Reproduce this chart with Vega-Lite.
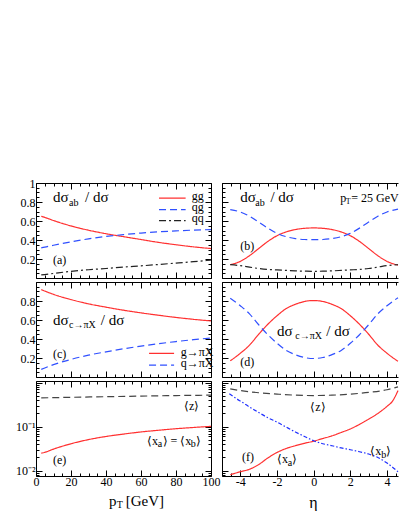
{
"$schema": "https://vega.github.io/schema/vega-lite/v6.json",
"padding": {"left": 15, "top": 177, "right": 0, "bottom": 0},
"background": "white",
"config": {"view": {"stroke": null}, "font": "Liberation Serif",
  "axis": {"domainColor": "black", "tickColor": "black", "labelColor": "black", "labelFont": "Liberation Serif", "labelFontSize": 12, "labelPadding": 4, "grid": false, "labelOverlap": false, "labelFlush": false, "domainWidth": 1, "tickWidth": 1},
  "axisLeft": {"labelPadding": 7},
  "text": {"font": "Liberation Serif", "color": "black"}},
"columns": 2,
"bounds": "flush",
"spacing": {"row": 4, "column": 11},
"concat": [
{
 "width": 175, "height": 95,
 "resolve": {"axis": {"x": "independent", "y": "independent"}},
 "layer": [
  {"data": {"values": [
    {"s":"gg","x":3,"y":0.65},{"s":"gg","x":5,"y":0.638},{"s":"gg","x":10,"y":0.605},{"s":"gg","x":15,"y":0.575},{"s":"gg","x":20,"y":0.548},{"s":"gg","x":30,"y":0.503},{"s":"gg","x":40,"y":0.466},{"s":"gg","x":50,"y":0.435},{"s":"gg","x":60,"y":0.405},{"s":"gg","x":70,"y":0.375},{"s":"gg","x":80,"y":0.35},{"s":"gg","x":90,"y":0.328},{"s":"gg","x":100,"y":0.31},
    {"s":"qg","x":3,"y":0.318},{"s":"qg","x":5,"y":0.325},{"s":"qg","x":10,"y":0.345},{"s":"qg","x":20,"y":0.38},{"s":"qg","x":30,"y":0.412},{"s":"qg","x":40,"y":0.437},{"s":"qg","x":50,"y":0.457},{"s":"qg","x":60,"y":0.473},{"s":"qg","x":70,"y":0.486},{"s":"qg","x":80,"y":0.496},{"s":"qg","x":90,"y":0.504},{"s":"qg","x":100,"y":0.51},
    {"s":"qq","x":3,"y":0.032},{"s":"qq","x":10,"y":0.048},{"s":"qq","x":20,"y":0.07},{"s":"qq","x":30,"y":0.087},{"s":"qq","x":40,"y":0.1},{"s":"qq","x":50,"y":0.115},{"s":"qq","x":60,"y":0.128},{"s":"qq","x":70,"y":0.142},{"s":"qq","x":80,"y":0.157},{"s":"qq","x":90,"y":0.172},{"s":"qq","x":100,"y":0.188}
   ]},
   "mark": {"type": "line", "strokeWidth": 1.2, "interpolate": "monotone"},
   "encoding": {
    "x": {"field": "x", "type": "quantitative", "scale": {"domain": [0, 100], "nice": false, "zero": false},
      "axis": {"orient": "bottom", "title": null, "labels": false, "values": [0,5,10,15,20,25,30,35,40,45,50,55,60,65,70,75,80,85,90,95,100], "tickSize": {"condition": {"test": "datum.value % 20 == 0", "value": -6}, "value": -3}}},
    "y": {"field": "y", "type": "quantitative", "scale": {"domain": [0, 1], "nice": false, "zero": false},
      "axis": {"orient": "left", "title": null, "values": [0,0.05,0.1,0.15,0.2,0.25,0.3,0.35,0.4,0.45,0.5,0.55,0.6,0.65,0.7,0.75,0.8,0.85,0.9,0.95,1], "labelExpr": "(abs(datum.value*5 - round(datum.value*5)) < 0.001 && datum.value > 0.01) ? toString(datum.value) : ''", "tickSize": {"condition": {"test": "abs(datum.value*5 - round(datum.value*5)) < 0.001", "value": -6}, "value": -3}}},
    "color": {"field": "s", "type": "nominal", "legend": null, "scale": {"domain": ["gg","qg","qq","g","q","xa","xb","z"], "range": ["#ff3030","#3050ff","#222222","#ff3030","#3050ff","#ff3030","#2030ff","#444444"]}},
    "strokeDash": {"field": "s", "type": "nominal", "legend": null, "scale": {"domain": ["gg","qg","qq","g","q","xa","xb","z"], "range": [[1,0],[7,4],[7,3,2,3],[1,0],[7,4],[1,0],[4,2,1.5,2],[7,4]]}}
   }},
  {"data": {"values": [{"s":"gg","x":70.3,"x2":85.5,"y":0.84},{"s":"qg","x":70.3,"x2":85.5,"y":0.72},{"s":"qq","x":70.3,"x2":85.5,"y":0.605}]},
   "mark": {"type": "rule", "strokeWidth": 1.2},
   "encoding": {
    "x": {"field": "x", "type": "quantitative", "scale": {"domain": [0, 100], "nice": false, "zero": false}, "axis": null},
    "x2": {"field": "x2"},
    "y": {"field": "y", "type": "quantitative", "scale": {"domain": [0, 1], "nice": false, "zero": false}, "axis": null},
    "color": {"field": "s", "type": "nominal", "legend": null, "scale": {"domain": ["gg","qg","qq","g","q","xa","xb","z"], "range": ["#ff3030","#3050ff","#222222","#ff3030","#3050ff","#ff3030","#2030ff","#444444"]}},
    "strokeDash": {"field": "s", "type": "nominal", "legend": null, "scale": {"domain": ["gg","qg","qq","g","q","xa","xb","z"], "range": [[1,0],[7,4],[7,3,2,3],[1,0],[7,4],[1,0],[4,2,1.5,2],[7,4]]}}
   }},
  {"data": {"values": [{"x":9.7,"y":0.15,"t":"(a)"},{"x":89,"y":0.824,"t":"gg"},{"x":89,"y":0.705,"t":"qg"},{"x":89,"y":0.59,"t":"qq"}]},
   "mark": {"type": "text", "fontSize": 12, "align": "left", "baseline": "alphabetic"},
   "encoding": {
    "x": {"field": "x", "type": "quantitative", "scale": {"domain": [0, 100], "nice": false, "zero": false},
      "axis": {"orient": "top", "title": null, "labels": false, "values": [0,5,10,15,20,25,30,35,40,45,50,55,60,65,70,75,80,85,90,95,100], "tickSize": {"condition": {"test": "datum.value % 20 == 0", "value": -6}, "value": -3}}},
    "y": {"field": "y", "type": "quantitative", "scale": {"domain": [0, 1], "nice": false, "zero": false},
      "axis": {"orient": "right", "title": null, "labels": false, "values": [0,0.05,0.1,0.15,0.2,0.25,0.3,0.35,0.4,0.45,0.5,0.55,0.6,0.65,0.7,0.75,0.8,0.85,0.9,0.95,1], "tickSize": {"condition": {"test": "abs(datum.value*5 - round(datum.value*5)) < 0.001", "value": -6}, "value": -3}}},
    "text": {"field": "t"}
   }},
  {"data": {"values": [{"x":9.7,"y":0.8,"t":"dσ"},{"x":28,"y":0.8,"t":"/ dσ"}]},
   "mark": {"type": "text", "fontSize": 15, "align": "left", "baseline": "alphabetic"},
   "encoding": {
    "x": {"field": "x", "type": "quantitative", "scale": {"domain": [0, 100], "nice": false, "zero": false}, "axis": null},
    "y": {"field": "y", "type": "quantitative", "scale": {"domain": [0, 1], "nice": false, "zero": false}, "axis": null},
    "text": {"field": "t"}
   }},
  {"data": {"values": [{"x":18.9,"y":0.758,"t":"ab"}]},
   "mark": {"type": "text", "fontSize": 10, "align": "left", "baseline": "alphabetic"},
   "encoding": {
    "x": {"field": "x", "type": "quantitative", "scale": {"domain": [0, 100], "nice": false, "zero": false}, "axis": null},
    "y": {"field": "y", "type": "quantitative", "scale": {"domain": [0, 1], "nice": false, "zero": false}, "axis": null},
    "text": {"field": "t"}
   }}
 ]
},
{
 "width": 176, "height": 95,
 "resolve": {"axis": {"x": "independent", "y": "independent"}},
 "layer": [
  {"data": {"values": [
    {"s":"gg","x":-4.55,"y":0.14},{"s":"gg","x":-4,"y":0.175},{"s":"gg","x":-3.5,"y":0.235},{"s":"gg","x":-3,"y":0.31},{"s":"gg","x":-2.5,"y":0.385},{"s":"gg","x":-2,"y":0.445},{"s":"gg","x":-1.5,"y":0.485},{"s":"gg","x":-1,"y":0.51},{"s":"gg","x":-0.5,"y":0.523},{"s":"gg","x":0,"y":0.527},{"s":"gg","x":0.5,"y":0.523},{"s":"gg","x":1,"y":0.51},{"s":"gg","x":1.5,"y":0.485},{"s":"gg","x":2,"y":0.445},{"s":"gg","x":2.5,"y":0.385},{"s":"gg","x":3,"y":0.31},{"s":"gg","x":3.5,"y":0.235},{"s":"gg","x":4,"y":0.175},{"s":"gg","x":4.6,"y":0.135},
    {"s":"qg","x":-4.55,"y":0.72},{"s":"qg","x":-4,"y":0.695},{"s":"qg","x":-3.5,"y":0.65},{"s":"qg","x":-3,"y":0.59},{"s":"qg","x":-2.5,"y":0.525},{"s":"qg","x":-2,"y":0.47},{"s":"qg","x":-1.5,"y":0.435},{"s":"qg","x":-1,"y":0.415},{"s":"qg","x":-0.5,"y":0.405},{"s":"qg","x":0,"y":0.403},{"s":"qg","x":0.5,"y":0.405},{"s":"qg","x":1,"y":0.415},{"s":"qg","x":1.5,"y":0.435},{"s":"qg","x":2,"y":0.47},{"s":"qg","x":2.5,"y":0.525},{"s":"qg","x":3,"y":0.59},{"s":"qg","x":3.5,"y":0.65},{"s":"qg","x":4,"y":0.695},{"s":"qg","x":4.6,"y":0.725},
    {"s":"qq","x":-4.55,"y":0.14},{"s":"qq","x":-4,"y":0.13},{"s":"qq","x":-3.5,"y":0.115},{"s":"qq","x":-3,"y":0.1},{"s":"qq","x":-2.5,"y":0.09},{"s":"qq","x":-2,"y":0.085},{"s":"qq","x":-1.5,"y":0.08},{"s":"qq","x":-1,"y":0.075},{"s":"qq","x":-0.5,"y":0.072},{"s":"qq","x":0,"y":0.07},{"s":"qq","x":0.5,"y":0.072},{"s":"qq","x":1,"y":0.075},{"s":"qq","x":1.5,"y":0.08},{"s":"qq","x":2,"y":0.085},{"s":"qq","x":2.5,"y":0.09},{"s":"qq","x":3,"y":0.1},{"s":"qq","x":3.5,"y":0.115},{"s":"qq","x":4,"y":0.13},{"s":"qq","x":4.6,"y":0.14}
   ]},
   "mark": {"type": "line", "strokeWidth": 1.2, "interpolate": "monotone"},
   "encoding": {
    "x": {"field": "x", "type": "quantitative", "scale": {"domain": [-5, 4.6], "nice": false, "zero": false},
      "axis": {"orient": "bottom", "title": null, "labels": false, "values": [-5,-4.5,-4,-3.5,-3,-2.5,-2,-1.5,-1,-0.5,0,0.5,1,1.5,2,2.5,3,3.5,4,4.5], "tickSize": {"condition": {"test": "datum.value % 2 == 0", "value": -6}, "value": -3}}},
    "y": {"field": "y", "type": "quantitative", "scale": {"domain": [0, 1], "nice": false, "zero": false},
      "axis": {"orient": "left", "title": null, "labels": false, "values": [0,0.05,0.1,0.15,0.2,0.25,0.3,0.35,0.4,0.45,0.5,0.55,0.6,0.65,0.7,0.75,0.8,0.85,0.9,0.95,1], "tickSize": {"condition": {"test": "abs(datum.value*5 - round(datum.value*5)) < 0.001", "value": -6}, "value": -3}}},
    "color": {"field": "s", "type": "nominal", "legend": null, "scale": {"domain": ["gg","qg","qq","g","q","xa","xb","z"], "range": ["#ff3030","#3050ff","#222222","#ff3030","#3050ff","#ff3030","#2030ff","#444444"]}},
    "strokeDash": {"field": "s", "type": "nominal", "legend": null, "scale": {"domain": ["gg","qg","qq","g","q","xa","xb","z"], "range": [[1,0],[7,4],[7,3,2,3],[1,0],[7,4],[1,0],[4,2,1.5,2],[7,4]]}}
   }},
  {"data": {"values": [{"x":-4.0,"y":0.29,"t":"(b)"},{"x":1.45,"y":0.8,"t":"p"},{"x":2.05,"y":0.8,"t":"= 25 GeV"}]},
   "mark": {"type": "text", "fontSize": 12, "align": "left", "baseline": "alphabetic"},
   "encoding": {
    "x": {"field": "x", "type": "quantitative", "scale": {"domain": [-5, 4.6], "nice": false, "zero": false},
      "axis": {"orient": "top", "title": null, "labels": false, "values": [-5,-4.5,-4,-3.5,-3,-2.5,-2,-1.5,-1,-0.5,0,0.5,1,1.5,2,2.5,3,3.5,4,4.5], "tickSize": {"condition": {"test": "datum.value % 2 == 0", "value": -6}, "value": -3}}},
    "y": {"field": "y", "type": "quantitative", "scale": {"domain": [0, 1], "nice": false, "zero": false}, "axis": null},
    "text": {"field": "t"}
   }},
  {"data": {"values": [{"x":-4.0,"y":0.8,"t":"dσ"},{"x":-2.36,"y":0.8,"t":"/ dσ"}]},
   "mark": {"type": "text", "fontSize": 15, "align": "left", "baseline": "alphabetic"},
   "encoding": {
    "x": {"field": "x", "type": "quantitative", "scale": {"domain": [-5, 4.6], "nice": false, "zero": false}, "axis": null},
    "y": {"field": "y", "type": "quantitative", "scale": {"domain": [0, 1], "nice": false, "zero": false}, "axis": null},
    "text": {"field": "t"}
   }},
  {"data": {"values": [{"x":-3.18,"y":0.758,"t":"ab"}]},
   "mark": {"type": "text", "fontSize": 10, "align": "left", "baseline": "alphabetic"},
   "encoding": {
    "x": {"field": "x", "type": "quantitative", "scale": {"domain": [-5, 4.6], "nice": false, "zero": false}, "axis": null},
    "y": {"field": "y", "type": "quantitative", "scale": {"domain": [0, 1], "nice": false, "zero": false}, "axis": null},
    "text": {"field": "t"}
   }},
  {"data": {"values": [{"x":1.75,"y":0.775,"t":"T"}]},
   "mark": {"type": "text", "fontSize": 8, "align": "left", "baseline": "alphabetic"},
   "encoding": {
    "x": {"field": "x", "type": "quantitative", "scale": {"domain": [-5, 4.6], "nice": false, "zero": false}, "axis": null},
    "y": {"field": "y", "type": "quantitative", "scale": {"domain": [0, 1], "nice": false, "zero": false}, "axis": null},
    "text": {"field": "t"}
   }}
 ]
},
{
 "width": 175, "height": 95,
 "resolve": {"axis": {"x": "independent", "y": "independent"}},
 "layer": [
  {"data": {"values": [
    {"s":"g","x":3,"y":0.92},{"s":"g","x":5,"y":0.905},{"s":"g","x":10,"y":0.87},{"s":"g","x":20,"y":0.815},{"s":"g","x":30,"y":0.77},{"s":"g","x":40,"y":0.735},{"s":"g","x":50,"y":0.703},{"s":"g","x":60,"y":0.675},{"s":"g","x":70,"y":0.65},{"s":"g","x":80,"y":0.627},{"s":"g","x":90,"y":0.607},{"s":"g","x":100,"y":0.59},
    {"s":"q","x":3,"y":0.08},{"s":"q","x":5,"y":0.095},{"s":"q","x":10,"y":0.13},{"s":"q","x":20,"y":0.185},{"s":"q","x":30,"y":0.23},{"s":"q","x":40,"y":0.265},{"s":"q","x":50,"y":0.297},{"s":"q","x":60,"y":0.325},{"s":"q","x":70,"y":0.35},{"s":"q","x":80,"y":0.373},{"s":"q","x":90,"y":0.393},{"s":"q","x":100,"y":0.41}
   ]},
   "mark": {"type": "line", "strokeWidth": 1.2, "interpolate": "monotone"},
   "encoding": {
    "x": {"field": "x", "type": "quantitative", "scale": {"domain": [0, 100], "nice": false, "zero": false},
      "axis": {"orient": "bottom", "title": null, "labels": false, "values": [0,5,10,15,20,25,30,35,40,45,50,55,60,65,70,75,80,85,90,95,100], "tickSize": {"condition": {"test": "datum.value % 20 == 0", "value": -6}, "value": -3}}},
    "y": {"field": "y", "type": "quantitative", "scale": {"domain": [0, 1], "nice": false, "zero": false},
      "axis": {"orient": "left", "title": null, "values": [0,0.05,0.1,0.15,0.2,0.25,0.3,0.35,0.4,0.45,0.5,0.55,0.6,0.65,0.7,0.75,0.8,0.85,0.9,0.95,1], "labelExpr": "(abs(datum.value*5 - round(datum.value*5)) < 0.001 && datum.value > 0.01 && datum.value < 0.99) ? toString(datum.value) : ''", "tickSize": {"condition": {"test": "abs(datum.value*5 - round(datum.value*5)) < 0.001", "value": -6}, "value": -3}}},
    "color": {"field": "s", "type": "nominal", "legend": null, "scale": {"domain": ["gg","qg","qq","g","q","xa","xb","z"], "range": ["#ff3030","#3050ff","#222222","#ff3030","#3050ff","#ff3030","#2030ff","#444444"]}},
    "strokeDash": {"field": "s", "type": "nominal", "legend": null, "scale": {"domain": ["gg","qg","qq","g","q","xa","xb","z"], "range": [[1,0],[7,4],[7,3,2,3],[1,0],[7,4],[1,0],[4,2,1.5,2],[7,4]]}}
   }},
  {"data": {"values": [{"s":"g","x":64.6,"x2":78.9,"y":0.249},{"s":"q","x":64.6,"x2":78.9,"y":0.126}]},
   "mark": {"type": "rule", "strokeWidth": 1.2},
   "encoding": {
    "x": {"field": "x", "type": "quantitative", "scale": {"domain": [0, 100], "nice": false, "zero": false}, "axis": null},
    "x2": {"field": "x2"},
    "y": {"field": "y", "type": "quantitative", "scale": {"domain": [0, 1], "nice": false, "zero": false}, "axis": null},
    "color": {"field": "s", "type": "nominal", "legend": null, "scale": {"domain": ["gg","qg","qq","g","q","xa","xb","z"], "range": ["#ff3030","#3050ff","#222222","#ff3030","#3050ff","#ff3030","#2030ff","#444444"]}},
    "strokeDash": {"field": "s", "type": "nominal", "legend": null, "scale": {"domain": ["gg","qg","qq","g","q","xa","xb","z"], "range": [[1,0],[7,4],[7,3,2,3],[1,0],[7,4],[1,0],[4,2,1.5,2],[7,4]]}}
   }},
  {"data": {"values": [{"x":9.7,"y":0.2,"t":"(c)"},{"x":82.7,"y":0.224,"t":"g→πX"},{"x":82.7,"y":0.102,"t":"q→πX"}]},
   "mark": {"type": "text", "fontSize": 12, "align": "left", "baseline": "alphabetic"},
   "encoding": {
    "x": {"field": "x", "type": "quantitative", "scale": {"domain": [0, 100], "nice": false, "zero": false},
      "axis": {"orient": "top", "title": null, "labels": false, "values": [0,5,10,15,20,25,30,35,40,45,50,55,60,65,70,75,80,85,90,95,100], "tickSize": {"condition": {"test": "datum.value % 20 == 0", "value": -6}, "value": -3}}},
    "y": {"field": "y", "type": "quantitative", "scale": {"domain": [0, 1], "nice": false, "zero": false},
      "axis": {"orient": "right", "title": null, "labels": false, "values": [0,0.05,0.1,0.15,0.2,0.25,0.3,0.35,0.4,0.45,0.5,0.55,0.6,0.65,0.7,0.75,0.8,0.85,0.9,0.95,1], "tickSize": {"condition": {"test": "abs(datum.value*5 - round(datum.value*5)) < 0.001", "value": -6}, "value": -3}}},
    "text": {"field": "t"}
   }},
  {"data": {"values": [{"x":9.7,"y":0.547,"t":"dσ"},{"x":37,"y":0.547,"t":"/ dσ"}]},
   "mark": {"type": "text", "fontSize": 15, "align": "left", "baseline": "alphabetic"},
   "encoding": {
    "x": {"field": "x", "type": "quantitative", "scale": {"domain": [0, 100], "nice": false, "zero": false}, "axis": null},
    "y": {"field": "y", "type": "quantitative", "scale": {"domain": [0, 1], "nice": false, "zero": false}, "axis": null},
    "text": {"field": "t"}
   }},
  {"data": {"values": [{"x":18.9,"y":0.515,"t":"c→πX"}]},
   "mark": {"type": "text", "fontSize": 10, "align": "left", "baseline": "alphabetic"},
   "encoding": {
    "x": {"field": "x", "type": "quantitative", "scale": {"domain": [0, 100], "nice": false, "zero": false}, "axis": null},
    "y": {"field": "y", "type": "quantitative", "scale": {"domain": [0, 1], "nice": false, "zero": false}, "axis": null},
    "text": {"field": "t"}
   }}
 ]
},
{
 "width": 176, "height": 95,
 "resolve": {"axis": {"x": "independent", "y": "independent"}},
 "layer": [
  {"data": {"values": [
    {"s":"g","x":-4.55,"y":0.17},{"s":"g","x":-4,"y":0.25},{"s":"g","x":-3.5,"y":0.335},{"s":"g","x":-3,"y":0.45},{"s":"g","x":-2.5,"y":0.555},{"s":"g","x":-2,"y":0.645},{"s":"g","x":-1.5,"y":0.72},{"s":"g","x":-1,"y":0.765},{"s":"g","x":-0.5,"y":0.795},{"s":"g","x":0,"y":0.805},{"s":"g","x":0.5,"y":0.795},{"s":"g","x":1,"y":0.765},{"s":"g","x":1.5,"y":0.72},{"s":"g","x":2,"y":0.645},{"s":"g","x":2.5,"y":0.555},{"s":"g","x":3,"y":0.45},{"s":"g","x":3.5,"y":0.335},{"s":"g","x":4,"y":0.25},{"s":"g","x":4.6,"y":0.165},
    {"s":"q","x":-4.55,"y":0.83},{"s":"q","x":-4,"y":0.75},{"s":"q","x":-3.5,"y":0.665},{"s":"q","x":-3,"y":0.55},{"s":"q","x":-2.5,"y":0.445},{"s":"q","x":-2,"y":0.355},{"s":"q","x":-1.5,"y":0.28},{"s":"q","x":-1,"y":0.235},{"s":"q","x":-0.5,"y":0.205},{"s":"q","x":0,"y":0.195},{"s":"q","x":0.5,"y":0.205},{"s":"q","x":1,"y":0.235},{"s":"q","x":1.5,"y":0.28},{"s":"q","x":2,"y":0.355},{"s":"q","x":2.5,"y":0.445},{"s":"q","x":3,"y":0.55},{"s":"q","x":3.5,"y":0.665},{"s":"q","x":4,"y":0.75},{"s":"q","x":4.6,"y":0.835}
   ]},
   "mark": {"type": "line", "strokeWidth": 1.2, "interpolate": "monotone"},
   "encoding": {
    "x": {"field": "x", "type": "quantitative", "scale": {"domain": [-5, 4.6], "nice": false, "zero": false},
      "axis": {"orient": "bottom", "title": null, "labels": false, "values": [-5,-4.5,-4,-3.5,-3,-2.5,-2,-1.5,-1,-0.5,0,0.5,1,1.5,2,2.5,3,3.5,4,4.5], "tickSize": {"condition": {"test": "datum.value % 2 == 0", "value": -6}, "value": -3}}},
    "y": {"field": "y", "type": "quantitative", "scale": {"domain": [0, 1], "nice": false, "zero": false},
      "axis": {"orient": "left", "title": null, "labels": false, "values": [0,0.05,0.1,0.15,0.2,0.25,0.3,0.35,0.4,0.45,0.5,0.55,0.6,0.65,0.7,0.75,0.8,0.85,0.9,0.95,1], "tickSize": {"condition": {"test": "abs(datum.value*5 - round(datum.value*5)) < 0.001", "value": -6}, "value": -3}}},
    "color": {"field": "s", "type": "nominal", "legend": null, "scale": {"domain": ["gg","qg","qq","g","q","xa","xb","z"], "range": ["#ff3030","#3050ff","#222222","#ff3030","#3050ff","#ff3030","#2030ff","#444444"]}},
    "strokeDash": {"field": "s", "type": "nominal", "legend": null, "scale": {"domain": ["gg","qg","qq","g","q","xa","xb","z"], "range": [[1,0],[7,4],[7,3,2,3],[1,0],[7,4],[1,0],[4,2,1.5,2],[7,4]]}}
   }},
  {"data": {"values": [{"x":-4.0,"y":0.113,"t":"(d)"}]},
   "mark": {"type": "text", "fontSize": 12, "align": "left", "baseline": "alphabetic"},
   "encoding": {
    "x": {"field": "x", "type": "quantitative", "scale": {"domain": [-5, 4.6], "nice": false, "zero": false},
      "axis": {"orient": "top", "title": null, "labels": false, "values": [-5,-4.5,-4,-3.5,-3,-2.5,-2,-1.5,-1,-0.5,0,0.5,1,1.5,2,2.5,3,3.5,4,4.5], "tickSize": {"condition": {"test": "datum.value % 2 == 0", "value": -6}, "value": -3}}},
    "y": {"field": "y", "type": "quantitative", "scale": {"domain": [0, 1], "nice": false, "zero": false}, "axis": null},
    "text": {"field": "t"}
   }},
  {"data": {"values": [{"x":-2.0,"y":0.435,"t":"dσ"},{"x":0.69,"y":0.435,"t":"/ dσ"}]},
   "mark": {"type": "text", "fontSize": 15, "align": "left", "baseline": "alphabetic"},
   "encoding": {
    "x": {"field": "x", "type": "quantitative", "scale": {"domain": [-5, 4.6], "nice": false, "zero": false}, "axis": null},
    "y": {"field": "y", "type": "quantitative", "scale": {"domain": [0, 1], "nice": false, "zero": false}, "axis": null},
    "text": {"field": "t"}
   }},
  {"data": {"values": [{"x":-1.0,"y":0.4,"t":"c→πX"}]},
   "mark": {"type": "text", "fontSize": 10, "align": "left", "baseline": "alphabetic"},
   "encoding": {
    "x": {"field": "x", "type": "quantitative", "scale": {"domain": [-5, 4.6], "nice": false, "zero": false}, "axis": null},
    "y": {"field": "y", "type": "quantitative", "scale": {"domain": [0, 1], "nice": false, "zero": false}, "axis": null},
    "text": {"field": "t"}
   }}
 ]
},
{
 "width": 175, "height": 95,
 "resolve": {"axis": {"x": "independent", "y": "independent"}},
 "layer": [
  {"data": {"values": [
    {"s":"xa","x":3,"y":0.025},{"s":"xa","x":5,"y":0.0262},{"s":"xa","x":10,"y":0.031},{"s":"xa","x":20,"y":0.041},{"s":"xa","x":30,"y":0.051},{"s":"xa","x":40,"y":0.06},{"s":"xa","x":50,"y":0.068},{"s":"xa","x":60,"y":0.076},{"s":"xa","x":70,"y":0.083},{"s":"xa","x":80,"y":0.09},{"s":"xa","x":90,"y":0.096},{"s":"xa","x":100,"y":0.102},
    {"s":"z","x":3,"y":0.45},{"s":"z","x":20,"y":0.465},{"s":"z","x":40,"y":0.48},{"s":"z","x":60,"y":0.495},{"s":"z","x":80,"y":0.51},{"s":"z","x":100,"y":0.52}
   ]},
   "mark": {"type": "line", "strokeWidth": 1.2, "interpolate": "monotone"},
   "encoding": {
    "x": {"field": "x", "type": "quantitative", "scale": {"domain": [0, 100], "nice": false, "zero": false},
      "axis": {"orient": "bottom", "title": null, "labelPadding": 6, "values": [0,5,10,15,20,25,30,35,40,45,50,55,60,65,70,75,80,85,90,95,100], "labelExpr": "datum.value % 20 == 0 ? toString(datum.value) : ''", "tickSize": {"condition": {"test": "datum.value % 20 == 0", "value": -6}, "value": -3}}},
    "y": {"field": "y", "type": "quantitative", "scale": {"type": "log", "domain": [0.0076, 1.09], "nice": false},
      "axis": {"orient": "left", "title": null, "values": [0.008,0.009,0.01,0.02,0.03,0.04,0.05,0.06,0.07,0.08,0.09,0.1,0.2,0.3,0.4,0.5,0.6,0.7,0.8,0.9,1], "labelExpr": "datum.value == 0.01 ? '10⁻²' : datum.value == 0.1 ? '10⁻¹' : ''", "tickSize": {"condition": {"test": "datum.value == 0.01 || datum.value == 0.1 || datum.value == 1", "value": -6}, "value": -3}}},
    "color": {"field": "s", "type": "nominal", "legend": null, "scale": {"domain": ["gg","qg","qq","g","q","xa","xb","z"], "range": ["#ff3030","#3050ff","#222222","#ff3030","#3050ff","#ff3030","#2030ff","#444444"]}},
    "strokeDash": {"field": "s", "type": "nominal", "legend": null, "scale": {"domain": ["gg","qg","qq","g","q","xa","xb","z"], "range": [[1,0],[7,4],[7,3,2,3],[1,0],[7,4],[1,0],[4,2,1.5,2],[7,4]]}}
   }},
  {"data": {"values": [{"x":9.7,"y":0.0142,"t":"(e)"},{"x":84.6,"y":0.243,"t":"⟨z⟩"},{"x":63.4,"y":0.039,"t":"⟨x"},{"x":72.3,"y":0.039,"t":"⟩ = ⟨x"},{"x":91.3,"y":0.039,"t":"⟩"}]},
   "mark": {"type": "text", "fontSize": 12, "align": "left", "baseline": "alphabetic"},
   "encoding": {
    "x": {"field": "x", "type": "quantitative", "scale": {"domain": [0, 100], "nice": false, "zero": false},
      "axis": {"orient": "top", "title": null, "labels": false, "values": [0,5,10,15,20,25,30,35,40,45,50,55,60,65,70,75,80,85,90,95,100], "tickSize": {"condition": {"test": "datum.value % 20 == 0", "value": -6}, "value": -3}}},
    "y": {"field": "y", "type": "quantitative", "scale": {"type": "log", "domain": [0.0076, 1.09], "nice": false},
      "axis": {"orient": "right", "title": null, "labels": false, "values": [0.008,0.009,0.01,0.02,0.03,0.04,0.05,0.06,0.07,0.08,0.09,0.1,0.2,0.3,0.4,0.5,0.6,0.7,0.8,0.9,1], "tickSize": {"condition": {"test": "datum.value == 0.01 || datum.value == 0.1 || datum.value == 1", "value": -6}, "value": -3}}},
    "text": {"field": "t"}
   }},
  {"data": {"values": [{"x":41.7,"y":0.00162,"t":"p"},{"x":51.3,"y":0.00162,"t":"[GeV]"}]},
   "mark": {"type": "text", "fontSize": 15, "align": "left", "baseline": "alphabetic"},
   "encoding": {
    "x": {"field": "x", "type": "quantitative", "scale": {"domain": [0, 100], "nice": false, "zero": false}, "axis": null},
    "y": {"field": "y", "type": "quantitative", "scale": {"type": "log", "domain": [0.0076, 1.09], "nice": false}, "axis": null},
    "text": {"field": "t"}
   }},
  {"data": {"values": [{"x":69.5,"y":0.034,"t":"a"},{"x":88.4,"y":0.034,"t":"b"},{"x":46.2,"y":0.00145,"t":"T"}]},
   "mark": {"type": "text", "fontSize": 10, "align": "left", "baseline": "alphabetic"},
   "encoding": {
    "x": {"field": "x", "type": "quantitative", "scale": {"domain": [0, 100], "nice": false, "zero": false}, "axis": null},
    "y": {"field": "y", "type": "quantitative", "scale": {"type": "log", "domain": [0.0076, 1.09], "nice": false}, "axis": null},
    "text": {"field": "t"}
   }}
 ]
},
{
 "width": 176, "height": 95,
 "resolve": {"axis": {"x": "independent", "y": "independent"}},
 "layer": [
  {"data": {"values": [
    {"s":"xa","x":-4.55,"y":0.0081},{"s":"xa","x":-4,"y":0.0095},{"s":"xa","x":-3.5,"y":0.0108},{"s":"xa","x":-3,"y":0.0138},{"s":"xa","x":-2.5,"y":0.0195},{"s":"xa","x":-2,"y":0.026},{"s":"xa","x":-1.5,"y":0.032},{"s":"xa","x":-1,"y":0.037},{"s":"xa","x":-0.5,"y":0.042},{"s":"xa","x":0,"y":0.047},{"s":"xa","x":0.5,"y":0.054},{"s":"xa","x":1,"y":0.062},{"s":"xa","x":1.5,"y":0.074},{"s":"xa","x":2,"y":0.089},{"s":"xa","x":2.5,"y":0.113},{"s":"xa","x":3,"y":0.148},{"s":"xa","x":3.5,"y":0.2},{"s":"xa","x":4,"y":0.29},{"s":"xa","x":4.3,"y":0.38},{"s":"xa","x":4.6,"y":0.66},
    {"s":"xb","x":-4.6,"y":0.56},{"s":"xb","x":-4.2,"y":0.43},{"s":"xb","x":-3.9,"y":0.36},{"s":"xb","x":-3.5,"y":0.28},{"s":"xb","x":-3,"y":0.21},{"s":"xb","x":-2.5,"y":0.16},{"s":"xb","x":-2,"y":0.127},{"s":"xb","x":-1.5,"y":0.098},{"s":"xb","x":-1,"y":0.076},{"s":"xb","x":-0.5,"y":0.06},{"s":"xb","x":0,"y":0.048},{"s":"xb","x":0.5,"y":0.041},{"s":"xb","x":1,"y":0.037},{"s":"xb","x":1.5,"y":0.033},{"s":"xb","x":2,"y":0.03},{"s":"xb","x":2.5,"y":0.027},{"s":"xb","x":3,"y":0.024},{"s":"xb","x":3.5,"y":0.02},{"s":"xb","x":4,"y":0.015},{"s":"xb","x":4.6,"y":0.0095},
    {"s":"z","x":-4.55,"y":0.72},{"s":"z","x":-4,"y":0.66},{"s":"z","x":-3,"y":0.59},{"s":"z","x":-2,"y":0.55},{"s":"z","x":-1,"y":0.52},{"s":"z","x":0,"y":0.51},{"s":"z","x":1,"y":0.52},{"s":"z","x":2,"y":0.55},{"s":"z","x":3,"y":0.6},{"s":"z","x":4,"y":0.69},{"s":"z","x":4.6,"y":0.8}
   ]},
   "mark": {"type": "line", "strokeWidth": 1.2, "interpolate": "monotone"},
   "encoding": {
    "x": {"field": "x", "type": "quantitative", "scale": {"domain": [-5, 4.6], "nice": false, "zero": false},
      "axis": {"orient": "bottom", "title": null, "labelPadding": 6, "values": [-5,-4.5,-4,-3.5,-3,-2.5,-2,-1.5,-1,-0.5,0,0.5,1,1.5,2,2.5,3,3.5,4,4.5], "labelExpr": "(datum.value % 2 == 0 && datum.value > -5) ? toString(datum.value) : ''", "tickSize": {"condition": {"test": "datum.value % 2 == 0", "value": -6}, "value": -3}}},
    "y": {"field": "y", "type": "quantitative", "scale": {"type": "log", "domain": [0.0076, 1.09], "nice": false},
      "axis": {"orient": "left", "title": null, "labels": false, "values": [0.008,0.009,0.01,0.02,0.03,0.04,0.05,0.06,0.07,0.08,0.09,0.1,0.2,0.3,0.4,0.5,0.6,0.7,0.8,0.9,1], "tickSize": {"condition": {"test": "datum.value == 0.01 || datum.value == 0.1 || datum.value == 1", "value": -6}, "value": -3}}},
    "color": {"field": "s", "type": "nominal", "legend": null, "scale": {"domain": ["gg","qg","qq","g","q","xa","xb","z"], "range": ["#ff3030","#3050ff","#222222","#ff3030","#3050ff","#ff3030","#2030ff","#444444"]}},
    "strokeDash": {"field": "s", "type": "nominal", "legend": null, "scale": {"domain": ["gg","qg","qq","g","q","xa","xb","z"], "range": [[1,0],[7,4],[7,3,2,3],[1,0],[7,4],[1,0],[4,2,1.5,2],[7,4]]}}
   }},
  {"data": {"values": [{"x":-3.91,"y":0.0166,"t":"(f)"},{"x":-0.18,"y":0.227,"t":"⟨z⟩"},{"x":-2.0,"y":0.015,"t":"⟨x"},{"x":-1.18,"y":0.015,"t":"⟩"},{"x":3.09,"y":0.0231,"t":"⟨x"},{"x":3.95,"y":0.0231,"t":"⟩"}]},
   "mark": {"type": "text", "fontSize": 12, "align": "left", "baseline": "alphabetic"},
   "encoding": {
    "x": {"field": "x", "type": "quantitative", "scale": {"domain": [-5, 4.6], "nice": false, "zero": false},
      "axis": {"orient": "top", "title": null, "labels": false, "values": [-5,-4.5,-4,-3.5,-3,-2.5,-2,-1.5,-1,-0.5,0,0.5,1,1.5,2,2.5,3,3.5,4,4.5], "tickSize": {"condition": {"test": "datum.value % 2 == 0", "value": -6}, "value": -3}}},
    "y": {"field": "y", "type": "quantitative", "scale": {"type": "log", "domain": [0.0076, 1.09], "nice": false}, "axis": null},
    "text": {"field": "t"}
   }},
  {"data": {"values": [{"x":-0.24,"y":0.00145,"t":"η"}]},
   "mark": {"type": "text", "fontSize": 16, "align": "left", "baseline": "alphabetic"},
   "encoding": {
    "x": {"field": "x", "type": "quantitative", "scale": {"domain": [-5, 4.6], "nice": false, "zero": false}, "axis": null},
    "y": {"field": "y", "type": "quantitative", "scale": {"type": "log", "domain": [0.0076, 1.09], "nice": false}, "axis": null},
    "text": {"field": "t"}
   }},
  {"data": {"values": [{"x":-1.42,"y":0.0128,"t":"a"},{"x":3.68,"y":0.0197,"t":"b"}]},
   "mark": {"type": "text", "fontSize": 10, "align": "left", "baseline": "alphabetic"},
   "encoding": {
    "x": {"field": "x", "type": "quantitative", "scale": {"domain": [-5, 4.6], "nice": false, "zero": false}, "axis": null},
    "y": {"field": "y", "type": "quantitative", "scale": {"type": "log", "domain": [0.0076, 1.09], "nice": false}, "axis": null},
    "text": {"field": "t"}
   }}
 ]
}
]
}
